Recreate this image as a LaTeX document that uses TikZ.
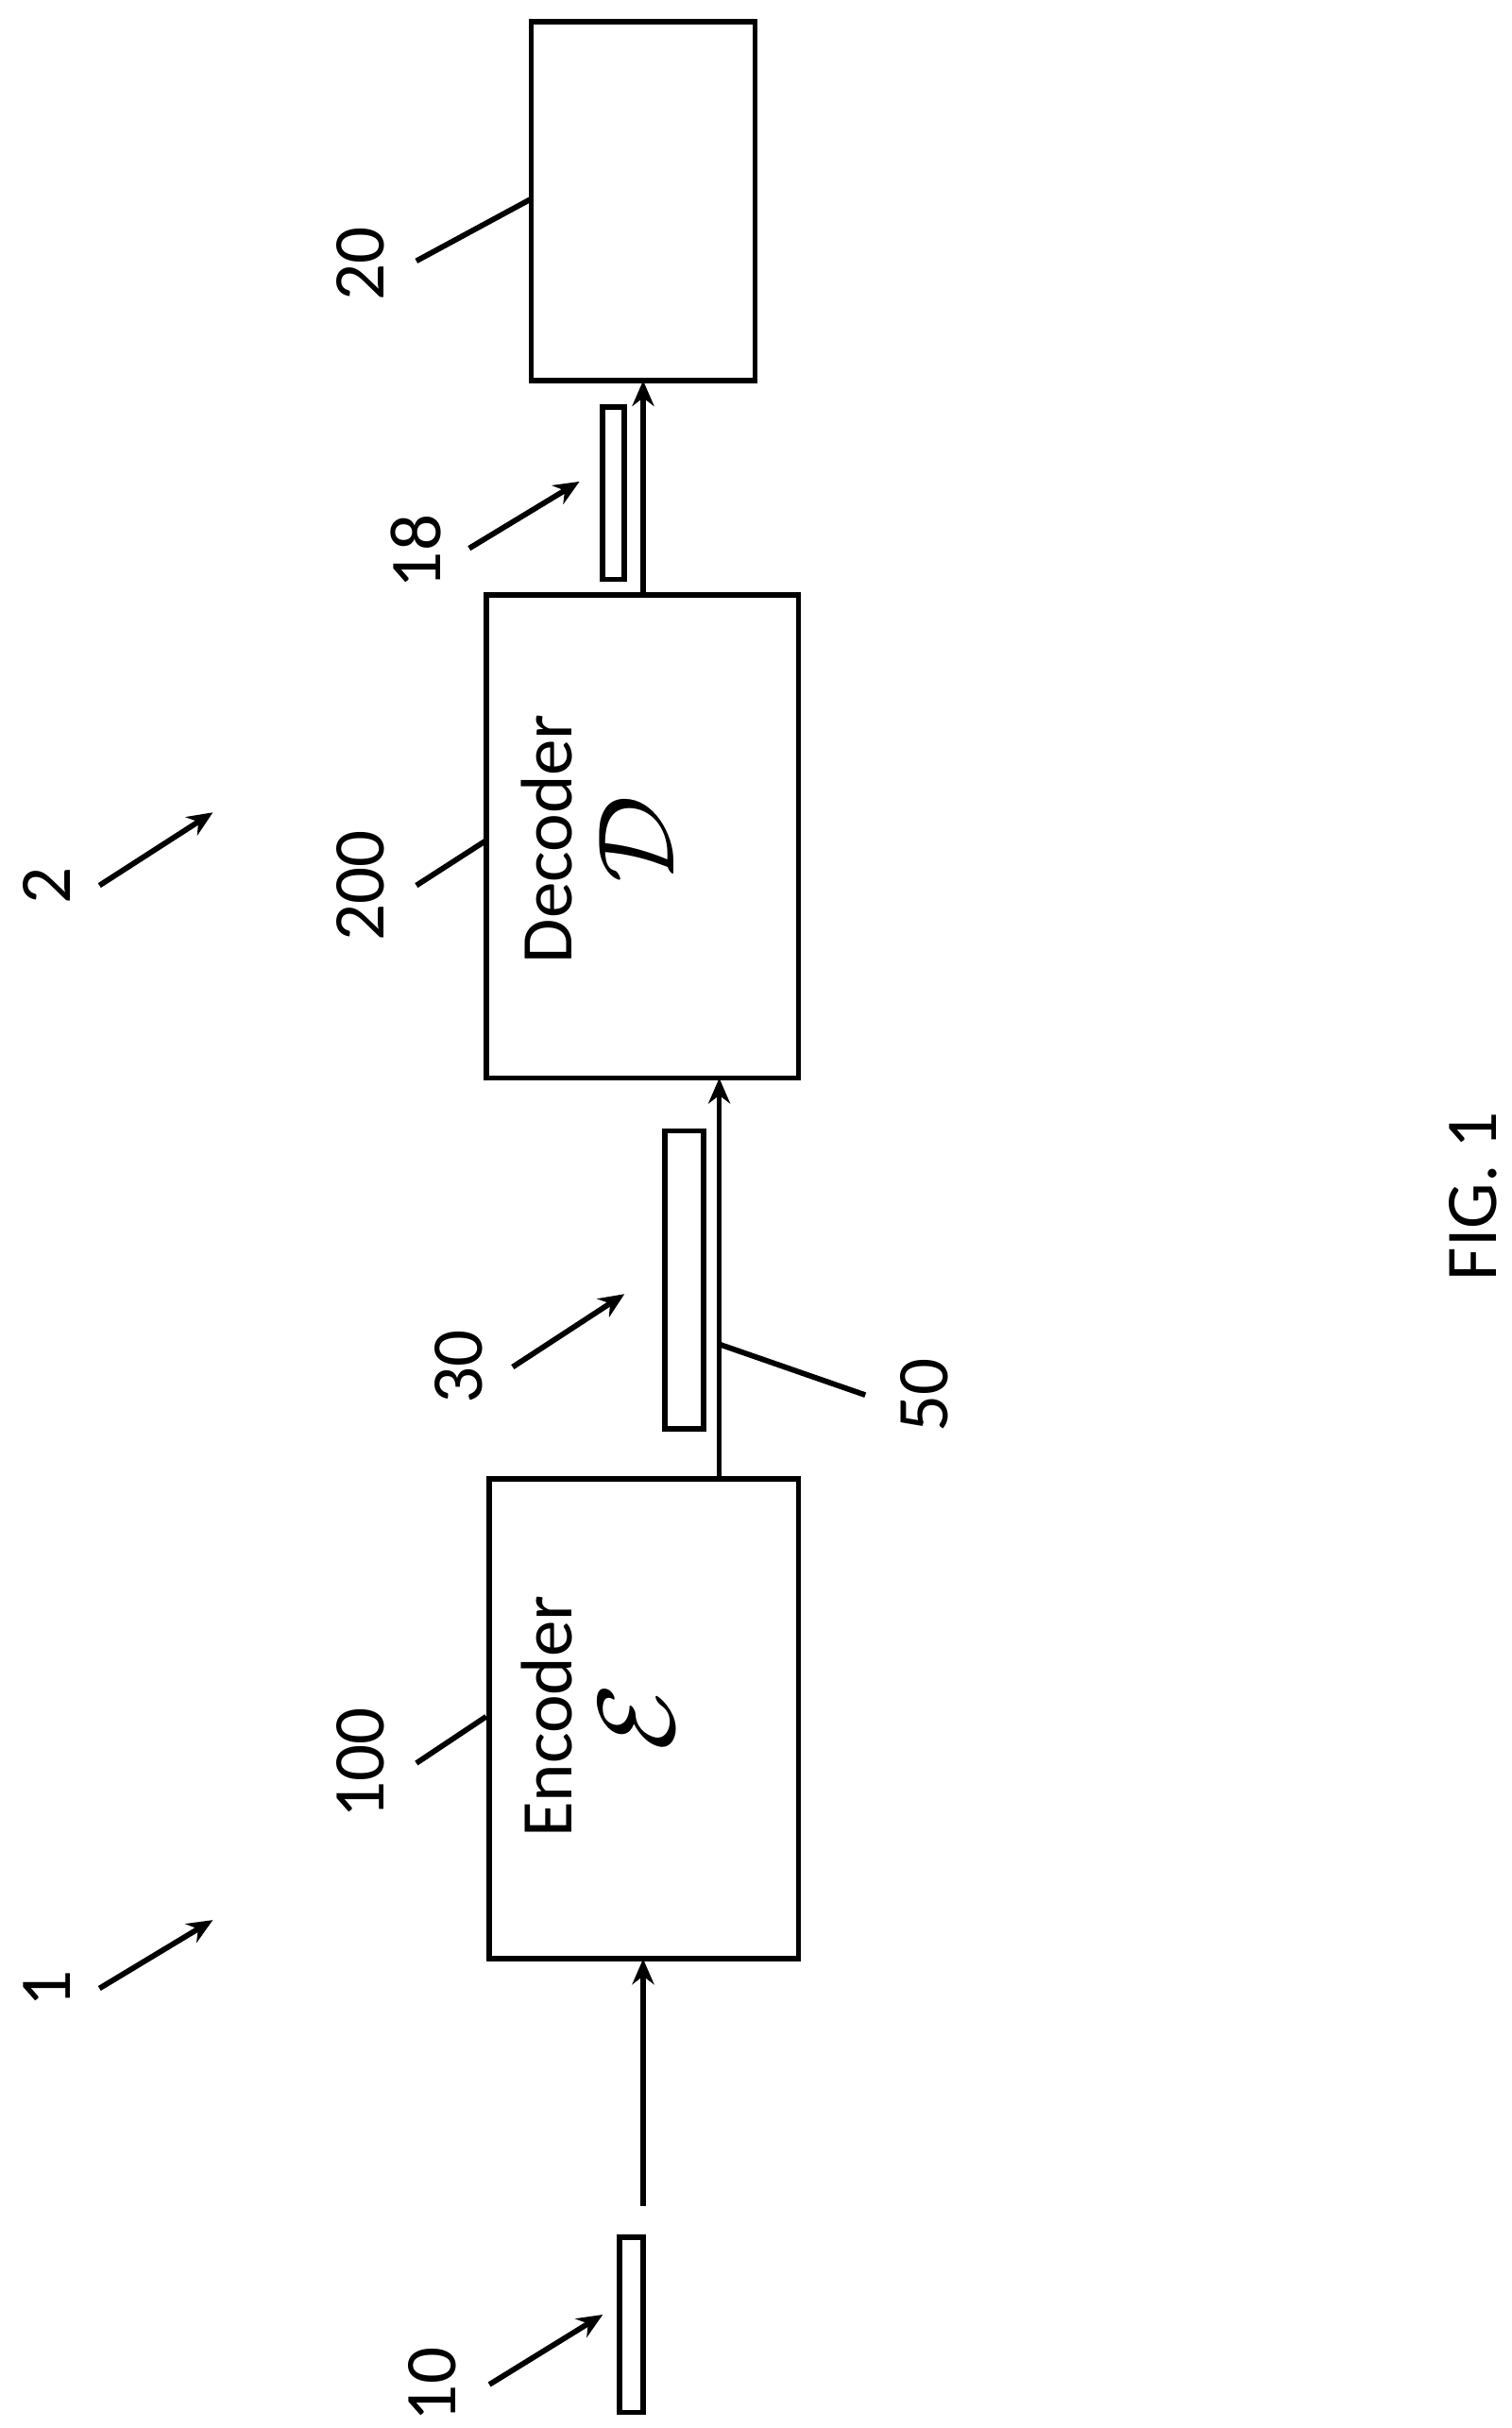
\documentclass[tikz,border=0pt]{standalone}
\usepackage{fontspec}
\usepackage{graphicx}
\setmainfont{Carlito}
\usetikzlibrary{arrows.meta}
\begin{document}
\begin{tikzpicture}[x=0.03cm,y=-0.03cm,
  box/.style={draw,line width=3pt},
  ln/.style={line width=3pt},
  arr/.style={line width=3pt,-{Stealth[length=14pt,width=12pt]}},
  lab/.style={rotate=90,font=\fontsize{40}{44}\selectfont,inner sep=0pt}]
\useasboundingbox (0,0) rectangle (973,1563);
\coordinate (b20a) at (342,14); \coordinate (b20b) at (486,245);
\draw[box] (b20a) rectangle (b20b);
\draw[box] (313,383) rectangle (514,694);
\draw[box] (315,952) rectangle (514,1261);
\draw[box] (388,262) rectangle (402,373);
\draw[box] (428,728) rectangle (453,920);
\draw[box] (399,1440) rectangle (414,1553);
\node[lab] (dec) at (352,540) {Decoder};
\node[lab] (decs) at (410,540) {\scalebox{2.4}{$\mathcal{D}$}};
\node[lab] (enc) at (352,1105) {Encoder};
\node[lab] (encs) at (410,1105) {\scalebox{2.4}{$\mathcal{E}$}};
\coordinate (d1) at (414,383); \coordinate (d2) at (414,245);
\draw[arr] (d1) -- (d2);
\coordinate (e1) at (463,952); \coordinate (e2) at (463,694);
\draw[arr] (e1) -- (e2);
\coordinate (i1) at (414,1420); \coordinate (i2) at (414,1261);
\draw[arr] (i1) -- (i2);
\draw[ln] (268,168) -- (342,128);
\draw[ln] (268,570) -- (313,541);
\draw[ln] (268,1135) -- (313,1105);
\draw[ln] (462,865) -- (557,898);
\draw[arr] (302,353) -- (373,310);
\draw[arr] (330,880) -- (402,833);
\draw[arr] (315,1535) -- (388,1490);
\draw[arr] (64,570) -- (137,523);
\draw[arr] (64,1280) -- (137,1236);
\node[lab] (l20) at (232,170) {20};
\node[lab] (l18) at (268,355) {18};
\node[lab] (l200) at (232,570) {200};
\node[lab] (l2) at (30,570) {2};
\node[lab] (l30) at (295,880) {30};
\node[lab] (l50) at (595,898) {50};
\node[lab] (l100) at (232,1135) {100};
\node[lab] (l1) at (30,1280) {1};
\node[lab] (l10) at (278,1535) {10};
\node[lab] (fig) at (948,770) {FIG. 1};
\end{tikzpicture}
\end{document}
